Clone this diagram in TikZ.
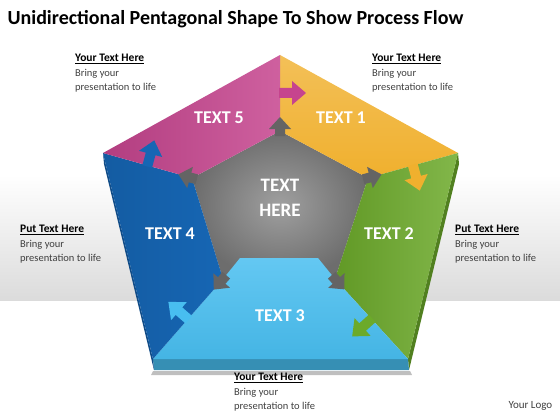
\documentclass[tikz,border=0pt]{standalone}
\usepackage{fontspec}
\setmainfont{Carlito}
\usetikzlibrary{calc}

\definecolor{pinkpiece}{RGB}{198,68,142}
\definecolor{orangepiece}{RGB}{240,176,46}
\definecolor{greenpiece}{RGB}{108,170,42}
\definecolor{lightbluepiece}{RGB}{72,190,240}
\definecolor{bluepiece}{RGB}{22,102,180}
\definecolor{centregray}{RGB}{128,128,128}
\definecolor{arrowgray}{RGB}{100,100,100}
\definecolor{notegray}{RGB}{64,64,64}

\newcommand{\notehead}[1]{{\fontsize{11.5}{14.5}\selectfont\bfseries\color{black}\underline{#1}}}

\begin{document}
\begin{tikzpicture}[x=1pt, y=-1pt]
  \tikzset{
    piecelabel/.style={
      text=white, font=\fontsize{18}{22}\selectfont\bfseries, align=center
    },
    note/.style={
      anchor=north west, align=left, inner sep=0pt, text=notegray,
      font=\fontsize{10.5}{14.5}\selectfont
    }
  }
  \useasboundingbox (0,0) rectangle (560,420);

  % background band
  \shade[top color=white, bottom color=gray!28] (0,175) rectangle (560,300);

  % outer and inner corners of the pentagon
  \coordinate (o1) at (280,55);
  \coordinate (o2) at (458,153);
  \coordinate (o3) at (408,359);
  \coordinate (o4) at (153,359);
  \coordinate (o5) at (103,153);
  \coordinate (i1) at (280,131);
  \coordinate (i2) at (368,178);
  \coordinate (i3) at (335,279);
  \coordinate (i4) at (223,279);
  \coordinate (i5) at (192,178);

  % shadow and sides
  \fill[black, opacity=0.25] ($(o4)+(0,12)$) -- ($(o3)+(2,12)$) -- ($(o3)+(4,16)$) -- ($(o4)+(-2,16)$) -- cycle;
  \fill[greenpiece!75!black] (o2) -- (o3) -- ($(o3)+(1,11)$) -- ($(o2)+(1,11)$) -- cycle;
  \fill[lightbluepiece!75!black] (o3) -- (o4) -- ($(o4)+(1,11)$) -- ($(o3)+(1,11)$) -- cycle;
  \fill[bluepiece!75!black] (o4) -- (o5) -- ($(o5)+(1,11)$) -- ($(o4)+(1,11)$) -- cycle;

  % centre
  \shade[inner color=gray!75, outer color=centregray!85!black]
    (i1) -- (i2) -- (i3) -- (i4) -- (i5) -- cycle;

  % pieces
  \shade[top color=orangepiece!80!white, bottom color=orangepiece]
    (o1) -- (o2) -- (i2) -- (i1) -- cycle;
  \shade[left color=greenpiece!90!black, right color=greenpiece!85!white]
    (o2) -- (o3) -- (i3) -- (i2) -- cycle;
  \shade[top color=lightbluepiece!85!white, bottom color=lightbluepiece!95!black]
    (o3) -- (o4) -- (i4) -- (240,258) -- (318,258) -- (i3) -- cycle;
  \shade[left color=bluepiece!90!black, right color=bluepiece]
    (o4) -- (o5) -- (i5) -- (i4) -- cycle;
  \shade[left color=pinkpiece!90!black, right color=pinkpiece!85!white]
    (o5) -- (o1) -- (i1) -- (i5) -- cycle;

  % arrows of the centre, pointing out along the seams
  \foreach \i/\ang in {1/90, 2/15, 3/-48, 4/-131, 5/165} {
    \fill[arrowgray, shift={(i\i)}, rotate=\ang]
      (-5,-5) -- (2,-5) -- (2,-11) -- (14,0) -- (2,11) -- (2,5) -- (-5,5) -- cycle;
  }

  % each piece pushes an arrow into the next one
  \foreach \i/\ang/\col in {1/0/pinkpiece, 2/-75/orangepiece, 3/-138/greenpiece,
                            4/139/lightbluepiece, 5/75/bluepiece} {
    \fill[\col, shift={($(o\i)!0.5!(i\i)$)}, rotate=\ang]
      (-1,-5) -- (12,-5) -- (12,-12) -- (26,0) -- (12,12) -- (12,5) -- (-1,5) -- cycle;
  }

  % piece labels
  \node[piecelabel] (t1) at (341,118) {TEXT 1};
  \node[piecelabel] (t2) at (389,234) {TEXT 2};
  \node[piecelabel] (t3) at (280,316) {TEXT 3};
  \node[piecelabel] (t4) at (170,234) {TEXT 4};
  \node[piecelabel] (t5) at (219,118) {TEXT 5};
  \node[piecelabel, font=\fontsize{19}{25}\selectfont\bfseries] (centre) at (280,198) {TEXT\\HERE};

  % notes round the pentagon
  \node[note] (n5) at (75,54) {\notehead{Your Text Here}\\Bring your\\presentation to life};
  \node[note] (n1) at (372,54) {\notehead{Your Text Here}\\Bring your\\presentation to life};
  \node[note] (n4) at (20,225) {\notehead{Put Text Here}\\Bring your\\presentation to life};
  \node[note] (n2) at (455,225) {\notehead{Put Text Here}\\Bring your\\presentation to life};
  \node[note] (n3) at (234,373) {\notehead{Your Text Here}\\Bring your\\presentation to life};

  \node[anchor=west, text=notegray, font=\fontsize{11}{13}\selectfont] (logo) at (505,406) {Your Logo};
  \node[anchor=west, font=\fontsize{20}{24}\selectfont\bfseries] (title) at (4,19)
    {Unidirectional Pentagonal Shape To Show Process Flow};
\end{tikzpicture}
\end{document}
